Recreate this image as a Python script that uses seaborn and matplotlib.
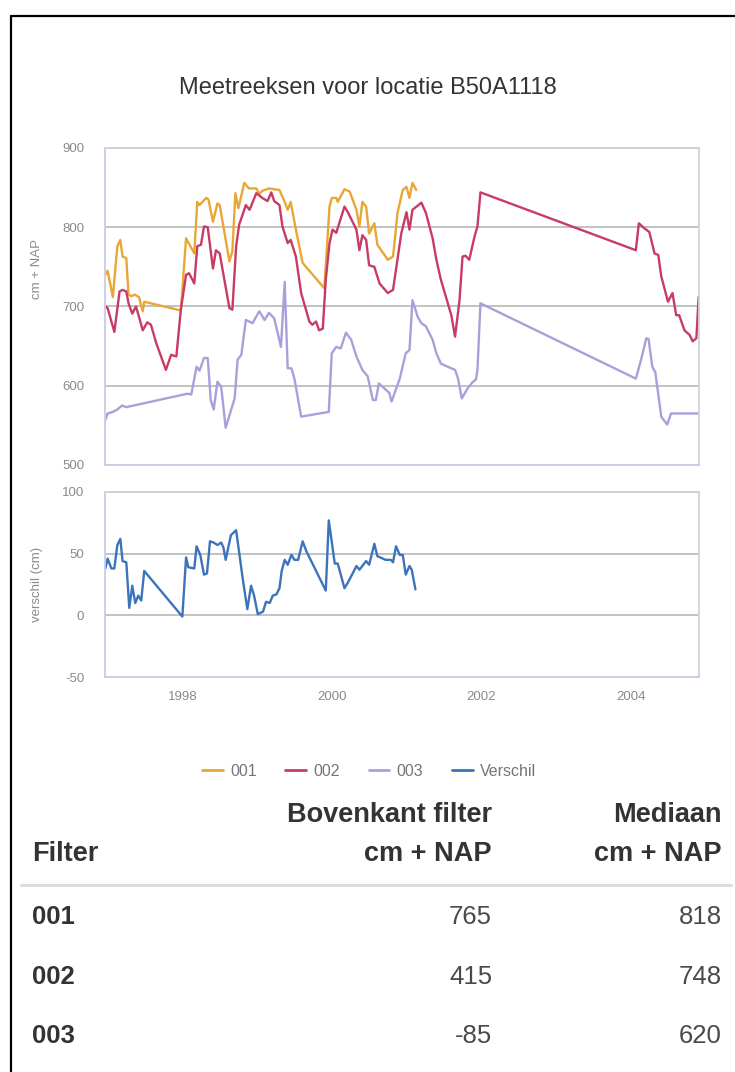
import matplotlib
matplotlib.use("Agg")
import matplotlib.pyplot as plt
from matplotlib.lines import Line2D
import numpy as np
import pandas as pd
import seaborn as sns

# ---------------- data (decimal years, cm + NAP) ----------------
jaar_001 = [1996.97, 1997.00, 1997.07, 1997.13, 1997.17, 1997.20, 1997.25, 1997.28, 1997.32, 1997.36,
            1997.42, 1997.47, 1997.49, 1997.98, 1998.05, 1998.16, 1998.20, 1998.23, 1998.32, 1998.35,
            1998.41, 1998.47, 1998.50, 1998.63, 1998.67, 1998.71, 1998.75, 1998.83, 1998.89, 1998.99,
            1999.03, 1999.07, 1999.16, 1999.30, 1999.37, 1999.41, 1999.45, 1999.52, 1999.61, 1999.90,
            1999.97, 2000.00, 2000.06, 2000.08, 2000.17, 2000.24, 2000.33, 2000.37, 2000.41, 2000.46,
            2000.50, 2000.57, 2000.61, 2000.75, 2000.82, 2000.88, 2000.95, 2001.00, 2001.04, 2001.08,
            2001.13]
waarde_001 = [740, 745, 712, 776, 784, 763, 761, 715, 713, 715,
              712, 694, 706, 695, 786, 767, 832, 828, 837, 835,
              807, 830, 828, 757, 770, 843, 824, 856, 849, 849,
              842, 846, 849, 847, 832, 822, 832, 797, 755, 723,
              826, 837, 837, 832, 848, 845, 822, 801, 832, 826,
              792, 805, 778, 759, 763, 818, 847, 851, 837, 856,
              847]

jaar_002 = [1996.97, 1997.00, 1997.09, 1997.16, 1997.20, 1997.25, 1997.28, 1997.33, 1997.38, 1997.42,
            1997.47, 1997.53, 1997.58, 1997.65, 1997.78, 1997.85, 1997.92, 1997.98, 1998.05, 1998.09,
            1998.16, 1998.20, 1998.25, 1998.29, 1998.34, 1998.41, 1998.45, 1998.50, 1998.63, 1998.67,
            1998.72, 1998.76, 1998.85, 1998.90, 1998.99, 1999.07, 1999.14, 1999.19, 1999.23, 1999.30,
            1999.34, 1999.41, 1999.45, 1999.52, 1999.59, 1999.63, 1999.70, 1999.74, 1999.79, 1999.83,
            1999.88, 1999.92, 1999.97, 2000.01, 2000.06, 2000.17, 2000.21, 2000.33, 2000.37, 2000.41,
            2000.46, 2000.50, 2000.57, 2000.64, 2000.75, 2000.82, 2000.93, 2001.00, 2001.04, 2001.08,
            2001.20, 2001.26, 2001.35, 2001.40, 2001.46, 2001.60, 2001.65, 2001.71, 2001.75, 2001.79,
            2001.84, 2001.91, 2001.95, 2001.99, 2004.07, 2004.11, 2004.18, 2004.25, 2004.32, 2004.37,
            2004.41, 2004.50, 2004.56, 2004.61, 2004.65, 2004.72, 2004.79, 2004.83, 2004.88, 2004.91]
waarde_002 = [700, 698, 668, 719, 721, 719, 704, 691, 700, 687,
              670, 680, 677, 654, 620, 639, 637, 696, 740, 742,
              729, 776, 778, 801, 800, 748, 771, 767, 698, 696,
              776, 803, 828, 822, 843, 837, 833, 844, 833, 828,
              801, 780, 784, 763, 717, 704, 681, 677, 681, 670,
              672, 734, 780, 797, 793, 826, 820, 797, 771, 790,
              784, 752, 750, 729, 717, 721, 792, 819, 797, 822,
              831, 818, 786, 759, 734, 689, 662, 708, 763, 764,
              759, 788, 801, 844, 771, 805, 799, 794, 767, 765,
              738, 706, 717, 689, 689, 670, 664, 656, 660, 712]

jaar_003 = [1996.97, 1997.00, 1997.07, 1997.13, 1997.19, 1997.25, 1998.07, 1998.12, 1998.19, 1998.23,
            1998.29, 1998.34, 1998.38, 1998.42, 1998.47, 1998.52, 1998.58, 1998.70, 1998.74, 1998.79,
            1998.85, 1998.94, 1999.03, 1999.10, 1999.16, 1999.23, 1999.32, 1999.37, 1999.41, 1999.46,
            1999.50, 1999.59, 1999.96, 2000.00, 2000.06, 2000.12, 2000.19, 2000.26, 2000.33, 2000.41,
            2000.48, 2000.55, 2000.59, 2000.63, 2000.70, 2000.77, 2000.80, 2000.91, 2000.99, 2001.04,
            2001.08, 2001.15, 2001.20, 2001.26, 2001.35, 2001.40, 2001.46, 2001.55, 2001.65, 2001.69,
            2001.74, 2001.82, 2001.89, 2001.93, 2001.95, 2001.99, 2004.07, 2004.14, 2004.21, 2004.24,
            2004.29, 2004.33, 2004.41, 2004.49, 2004.54, 2004.91]
waarde_003 = [557, 565, 567, 570, 575, 573, 590, 589, 624, 619,
              635, 635, 582, 570, 605, 599, 547, 584, 633, 639,
              683, 679, 694, 683, 692, 685, 649, 731, 622, 622,
              609, 561, 567, 641, 649, 647, 667, 658, 637, 620,
              612, 582, 582, 603, 597, 591, 580, 609, 641, 645,
              708, 687, 679, 675, 658, 641, 628, 624, 620, 609,
              584, 597, 605, 608, 620, 704, 609, 633, 660, 659,
              624, 617, 561, 551, 565, 565]

jaar_verschil = [1996.97, 1997.00, 1997.05, 1997.09, 1997.13, 1997.17, 1997.20, 1997.25, 1997.29, 1997.33,
                 1997.37, 1997.41, 1997.45, 1997.49, 1998.00, 1998.05, 1998.08, 1998.16, 1998.19, 1998.24,
                 1998.29, 1998.33, 1998.37, 1998.42, 1998.47, 1998.52, 1998.55, 1998.58, 1998.65, 1998.72,
                 1998.81, 1998.87, 1998.92, 1998.96, 1999.01, 1999.08, 1999.12, 1999.17, 1999.21, 1999.26,
                 1999.30, 1999.33, 1999.37, 1999.41, 1999.46, 1999.50, 1999.55, 1999.61, 1999.66, 1999.92,
                 1999.96, 2000.04, 2000.08, 2000.17, 2000.21, 2000.28, 2000.33, 2000.37, 2000.46, 2000.50,
                 2000.57, 2000.61, 2000.72, 2000.79, 2000.82, 2000.86, 2000.91, 2000.95, 2000.99, 2001.04,
                 2001.07, 2001.12]
waarde_verschil = [38, 46, 38, 38, 57, 62, 44, 43, 6, 24,
                   10, 16, 12, 36, -1, 47, 39, 38, 56, 49,
                   33, 34, 60, 59, 57, 59, 55, 45, 65, 69,
                   29, 5, 24, 16, 1, 3, 11, 10, 16, 17,
                   22, 36, 45, 41, 49, 45, 45, 60, 52, 20,
                   77, 42, 42, 22, 26, 34, 40, 37, 44, 41,
                   58, 48, 45, 45, 43, 56, 49, 49, 33, 40,
                   37, 21]

series_labels = ["001", "002", "003", "Verschil"]
series_colors = ["#E8A735", "#C83B64", "#A9A0DB", "#3C74BA"]

yticks_top = [500, 600, 700, 800, 900]
yticks_bottom = [-50, 0, 50, 100]
xticks = [1998, 2000, 2002, 2004]

table_filters = ["001", "002", "003"]
table_bovenkant = ["765", "415", "-85"]
table_mediaan = ["818", "748", "620"]

# ---------------- styling ----------------
sns.set_style("white")
plt.rcParams["font.family"] = ["Liberation Sans", "DejaVu Sans"]

W, H = 735, 1072
fig = plt.figure(figsize=(W / 100, H / 100), dpi=100)


def fx(px):
    return px / W


def fy(py):
    return 1 - py / H


left, right = 105, 699
ax1 = fig.add_axes([fx(left), fy(465), (right - left) / W, (465 - 148) / H])
ax2 = fig.add_axes([fx(left), fy(677), (right - left) / W, (677 - 492) / H])

df_top = pd.concat([
    pd.DataFrame({"jaar": jaar_001, "waarde": waarde_001, "serie": "001"}),
    pd.DataFrame({"jaar": jaar_002, "waarde": waarde_002, "serie": "002"}),
    pd.DataFrame({"jaar": jaar_003, "waarde": waarde_003, "serie": "003"}),
], ignore_index=True)
df_bot = pd.DataFrame({"jaar": jaar_verschil, "waarde": waarde_verschil, "serie": "Verschil"})

palette = dict(zip(series_labels, series_colors))

sns.lineplot(data=df_top, x="jaar", y="waarde", hue="serie", palette=palette,
             estimator=None, sort=False, linewidth=1.7, ax=ax1, legend=False)
sns.lineplot(data=df_bot, x="jaar", y="waarde", hue="serie", palette=palette,
             estimator=None, sort=False, linewidth=1.7, ax=ax2, legend=False)

xmin, xmax = 1996.965, 2004.915
tick_color = "#8a8a8a"
for ax, yt in ((ax1, yticks_top), (ax2, yticks_bottom)):
    ax.set_xlim(xmin, xmax)
    ax.set_ylim(yt[0], yt[-1])
    ax.set_yticks(yt)
    ax.set_yticklabels([str(v) for v in yt])
    ax.grid(axis="y", color="#bdbdbd", linewidth=1.3)
    ax.grid(axis="x", visible=False)
    ax.set_axisbelow(True)
    ax.tick_params(axis="y", length=0, pad=15, labelsize=9.5, labelcolor=tick_color)
    ax.set_xlabel("")
    for s in ("top", "right"):
        ax.spines[s].set_color("#d2d2d2")
    for s in ("left", "bottom"):
        ax.spines[s].set_color("#c9cce6")
    for s in ax.spines.values():
        s.set_linewidth(1.3)

ax1.set_xticks(xticks)
ax1.tick_params(axis="x", length=0, labelbottom=False)
ax2.set_xticks(xticks)
ax2.set_xticklabels([str(v) for v in xticks])
ax2.tick_params(axis="x", length=6, width=0.8, color="#d0d0d0", pad=4,
                labelsize=9.5, labelcolor=tick_color)

ax1.set_ylabel("cm + NAP", color=tick_color, fontsize=9.5)
ax1.yaxis.set_label_coords(-(105 - 43) / (right - left), (465 - 269) / (465 - 148))
ax2.set_ylabel("verschil (cm)", color=tick_color, fontsize=9.5)
ax2.yaxis.set_label_coords(-(105 - 43) / (right - left), 0.5)

# title
fig.text(0.5, fy(88), "Meetreeksen voor locatie B50A1118", ha="center", va="center",
         fontsize=17, color="#333333")

# legend
handles = [Line2D([0], [0], color=c, lw=2.0) for c in series_colors]
fig.legend(handles, series_labels, loc="center", bbox_to_anchor=(fx(369), fy(771)),
           ncol=4, frameon=False, fontsize=11.5, handlelength=1.3, handletextpad=0.45,
           columnspacing=1.8, labelcolor="#757575")

# table
dark = "#333333"
val_col = "#4a4a4a"
fs = 18.5
fs_head = 19.5
fig.text(fx(492), fy(815), "Bovenkant filter", ha="right", va="center",
         fontsize=fs_head, fontweight="bold", color=dark)
fig.text(fx(722), fy(815), "Mediaan", ha="right", va="center",
         fontsize=fs_head, fontweight="bold", color=dark)
fig.text(fx(32), fy(854), "Filter", ha="left", va="center",
         fontsize=fs_head, fontweight="bold", color=dark)
fig.text(fx(492), fy(854), "cm + NAP", ha="right", va="center",
         fontsize=fs_head, fontweight="bold", color=dark)
fig.text(fx(722), fy(854), "cm + NAP", ha="right", va="center",
         fontsize=fs_head, fontweight="bold", color=dark)
fig.add_artist(Line2D([fx(21), fx(731)], [fy(885), fy(885)], color="#dddddd", lw=2.2))

row_y = [917, 977, 1036]
for yy, f, b, m in zip(row_y, table_filters, table_bovenkant, table_mediaan):
    fig.text(fx(32), fy(yy), f, ha="left", va="center", fontsize=fs,
             fontweight="bold", color=dark)
    fig.text(fx(492), fy(yy), b, ha="right", va="center", fontsize=fs, color=val_col)
    fig.text(fx(722), fy(yy), m, ha="right", va="center", fontsize=fs, color=val_col)

# outer black frame (left and top edges)
fig.add_artist(Line2D([fx(11), fx(11)], [fy(16), 0], color="black", lw=1.6))
fig.add_artist(Line2D([fx(11), 1], [fy(16), fy(16)], color="black", lw=1.6))

fig.savefig("out.png", dpi=100)
